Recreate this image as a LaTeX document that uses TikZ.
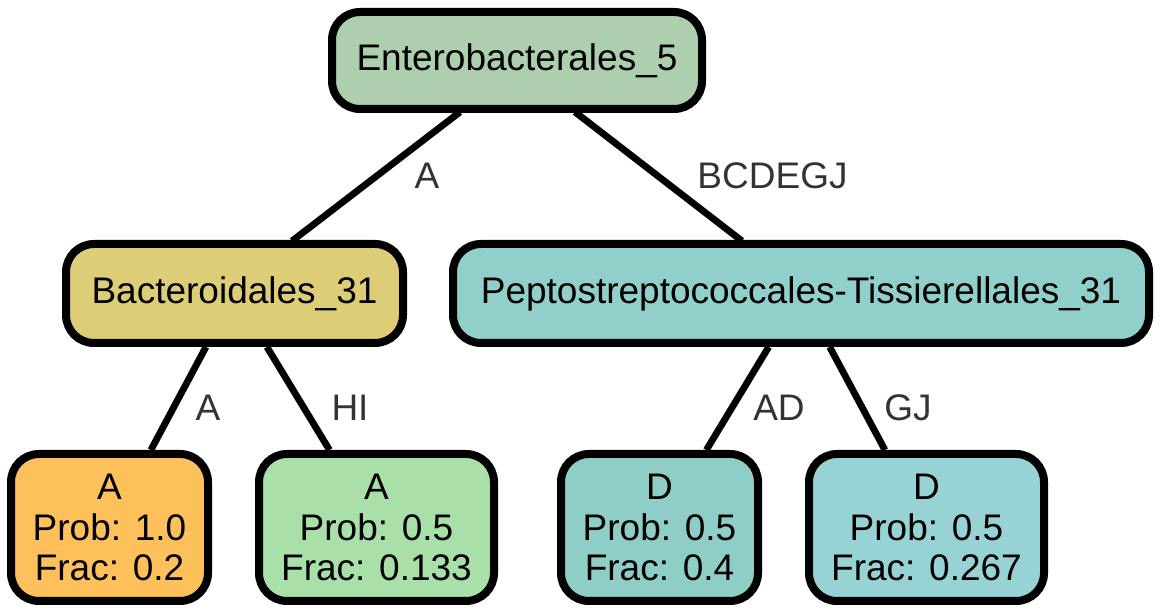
\documentclass[tikz,border=0pt]{standalone}
\usepackage{fontspec}
\setmainfont{Liberation Sans}
\usetikzlibrary{calc}
\definecolor{cRoot}{HTML}{ADCFB0}
\definecolor{cBact}{HTML}{DECD77}
\definecolor{cPept}{HTML}{91CFCB}
\definecolor{cAone}{HTML}{FDC05A}
\definecolor{cAtwo}{HTML}{A9DFA8}
\definecolor{cDone}{HTML}{8ECEC6}
\definecolor{cDtwo}{HTML}{97D3D5}
\definecolor{cLab}{HTML}{333333}
\tikzset{
  tnode/.style={draw=black, line width=4pt, rounded corners=14pt, inner sep=0pt,
    font=\fontsize{18.5}{20.2}\selectfont, align=center, text=black},
  inner/.style={tnode, minimum height=49.5pt},
  leaf/.style={tnode, minimum height=73.5pt},
  edge/.style={draw=black, line width=3.4pt},
  elab/.style={font=\fontsize{18.5}{20}\selectfont, text=cLab, inner sep=0pt},
}
\begin{document}
\begin{tikzpicture}[x=0.5pt, y=-0.5pt]
\useasboundingbox (0,0) rectangle (1161,613);
\node[inner, fill=cRoot, minimum width=185pt, minimum height=48.5pt] (root) at (517,60.5) {Enterobacterales\_5};
\node[inner, fill=cBact, minimum width=168.5pt] (bact) at (234.5,293.5) {Bacteroidales\_31};
\node[inner, fill=cPept, minimum width=348pt] (pept) at (801,293.5) {Peptostreptococcales-Tissierellales\_31};
\node[leaf, fill=cAone, minimum width=98.5pt] (a1) at (109.5,527.5) {A\\Prob: 1.0\\Frac: 0.2};
\node[leaf, fill=cAtwo, minimum width=117.5pt] (a2) at (376.5,527.5) {A\\Prob: 0.5\\Frac: 0.133};
\node[leaf, fill=cDone, minimum width=98.5pt] (d1) at (659.5,527.5) {D\\Prob: 0.5\\Frac: 0.4};
\node[leaf, fill=cDtwo, minimum width=117.5pt] (d2) at (926.5,527.5) {D\\Prob: 0.5\\Frac: 0.267};
\path[edge] ($(root.south)+(-57,-1)$) -- ($(bact.north)+(57.5,1)$);
\path[edge] ($(root.south)+(58,-1)$) -- ($(pept.north)+(-59,1)$);
\path[edge] (bact) -- (a1);
\path[edge] (bact) -- (a2);
\path[edge] (pept) -- (d1);
\path[edge] (pept) -- (d2);
\node[elab] (l1) at (427,176) {A};
\node[elab] (l2) at (772.5,176) {BCDEGJ};
\node[elab] (l3) at (208,408) {A};
\node[elab] (l4) at (350,408) {HI};
\node[elab] (l5) at (779,408) {AD};
\node[elab] (l6) at (908,408) {GJ};
\end{tikzpicture}
\end{document}
